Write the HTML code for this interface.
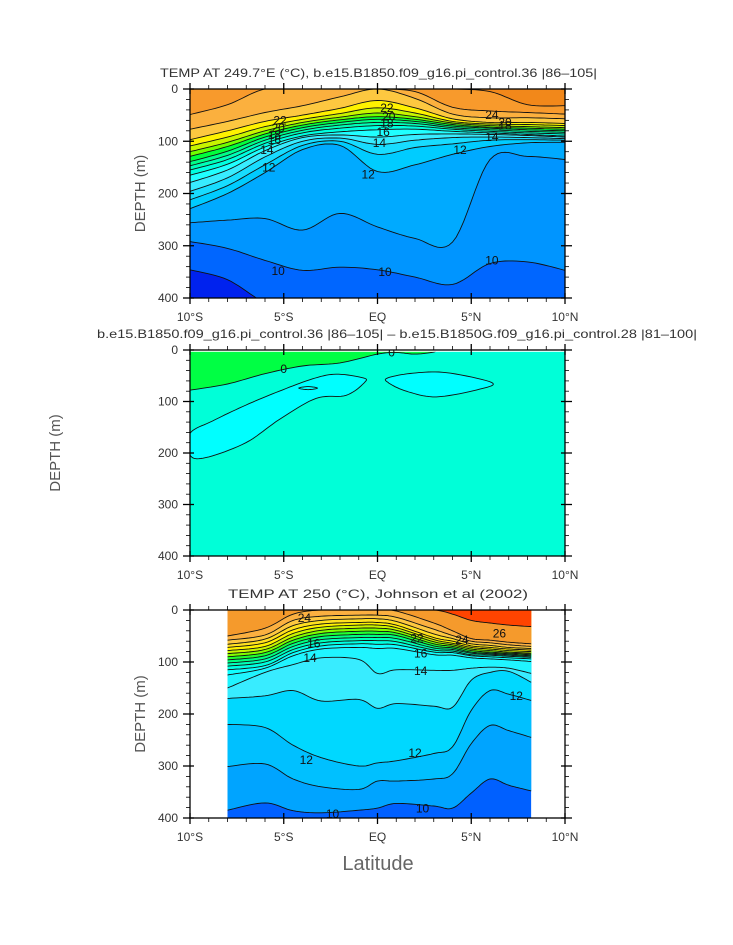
<!DOCTYPE html>
<html><head><meta charset="utf-8"><style>
html,body{margin:0;padding:0;background:#fff}
svg{display:block}
text{font-family:"Liberation Sans",sans-serif;fill:#333}
</style></head><body>
<svg id="chart" width="733" height="945" viewBox="0 0 733 945" xmlns="http://www.w3.org/2000/svg">
<rect width="733" height="945" fill="#fff"/>
</svg>
<script>
// ---------- shared data ----------
const xTickLats = [-10,-5,0,5,10];
const xTickLabels = ["10°S","5°S","EQ","5°N","10°N"];
const yTickDepths = [0,100,200,300,400];

// ---------- panel 1 (model temperature) ----------
const p1Lats = [-10,-8,-6,-4,-2,0,2,4,6,8,10];
const p1Depths = [
 [0,0,0,0,0,0,0,0,5,30,32],
 [49,30,0,0,0,0,5,35,42,45,48],
 [77,62,45,32,15,0,18,48,55,55,57],
 [97,80,62,50,37,22,36,57,64,64,66],
 [109,92,72,58,47,36,46,62,67,68,70],
 [120,102,80,64,54,46,53,65,70,72,74],
 [129,110,86,69,59,53,58,68,73,75,77],
 [139,119,92,74,64,58,62,71,75,78,80],
 [147,127,98,79,69,64,66,74,78,81,83],
 [155,135,104,84,75,70,71,77,81,84,86],
 [165,144,111,90,82,78,77,81,84,87,90],
 [179,155,118,93,88,92,87,86,87,89,92],
 [196,170,130,100,94,106,98,93,92,93,95],
 [212,185,145,108,100,125,112,105,98,97,98],
 [229,200,160,116,108,158,145,125,110,103,102],
 [256,251,248,270,238,264,286,293,135,129,135],
 [292,305,328,347,341,346,360,374,334,331,347],
 [346,365,410,440,440,440,440,440,440,440,440]
];
const p1Colors = ["#f2881a","#f89a2c","#fbb03e","#fdc840","#fff200","#c8f500","#70ff00","#00ff3c","#00ff88","#00ffb8","#00ffe0","#20ffff","#38ecff","#18dcff","#00ccff","#00aaff","#0095ff","#0066ff","#0022ee"];
const p1LabelLats = [-5.2,-5.3,-5.5,-5.5,-5.9,-5.8,0.5,0.6,0.5,0.3,0.1,-0.5,4.4,6.1,6.8,6.8,6.1,-5.3,0.4,6.1];
const p1LabelDepths = [60,75,88,98,117,150,36,53,66,82,103,164,117,50,64,70,92,348,350,328];
const p1LabelText = ["22","20","18","16","14","12","22","20","18","16","14","12","12","24","20","18","14","10","10","10"];

// ---------- panel 2 (difference) ----------
const p2GreenLats = [-10,-8,-6,-4,-2,0,1,2,3,3.1];
const p2GreenDepths = [78,66,46,31,25,8,5,8,4,0];
const p2Blob1Lats = [-10,-8.81,-7.02,-5.24,-3.46,-2.21,-0.78,-0.69,-1.67,-3.28,-5.24,-7.02,-9.16,-10];
const p2Blob1Depths = [162,138,107,80,56,47,54,63,88,94,135,180,209,204];
const p2Blob2Lats = [0.56,1.89,3.68,6.08,5.46,3.14,1.54,0.56];
const p2Blob2Depths = [54,45,44,63,76,91,80,63];
const p2Blob3Lats = [-4.2,-3.7,-3.2,-3.7];
const p2Blob3Depths = [74,71,74,77];
const p2LabelLats = [-5.0,0.75];
const p2LabelDepths = [37,5];
const p2LabelText = ["0","0"];

// ---------- panel 3 (observations) ----------
const p3Lats = [-8,-6,-4.5,-3,-1,0,1,3,4,5,6,7,8.2];
const p3Depths = [
 [0,0,0,0,0,0,0,0,8,20,25,29,32],
 [50,35,8,0,0,0,2,25,40,55,58,62,65],
 [58,48,20,12,10,10,14,37,49,60,63,67,70],
 [66,56,30,20,17,17,22,46,55,65,68,72,74],
 [72,63,38,27,24,24,29,53,60,69,72,75,77],
 [78,70,45,33,29,29,34,57,64,72,75,78,80],
 [84,76,52,39,35,35,39,61,67,75,78,81,83],
 [90,82,58,45,41,41,44,65,70,78,81,83,85],
 [96,88,64,51,47,47,49,69,73,81,83,85,87],
 [102,94,70,57,53,53,55,73,76,83,85,87,89],
 [108,100,76,63,59,59,61,77,79,86,87,89,91],
 [115,107,82,69,65,66,67,81,82,88,90,92,94],
 [125,112,88,75,72,74,74,86,87,92,94,96,99],
 [150,120,105,92,95,122,115,116,116,112,110,112,122],
 [170,165,155,175,172,189,180,185,187,135,120,118,139],
 [220,226,260,284,300,294,290,276,263,193,155,162,174],
 [301,296,325,340,345,329,329,325,315,257,222,232,245],
 [385,371,386,390,385,381,372,377,381,352,325,337,348]
];
const p3Colors = ["#ff4400","#f59a2c","#fbb040","#fdc840","#ffe020","#fff200","#c8f500","#80ff00","#20ff30","#00ff80","#00ffb8","#00ffe0","#10ffff","#20f4ff","#38ecff","#00d8ff","#00c0ff","#00a4ff","#0060ff"];
const p3DataLatMin = -8, p3DataLatMax = 8.2;
const p3LabelLats = [-3.9,2.1,4.5,6.5,-3.4,2.3,-3.6,2.3,7.4,-3.8,2.0,-2.4,2.4];
const p3LabelDepths = [15,55,58,45,64,84,92,117,165,288,275,392,382];
const p3LabelText = ["24","22","24","26","16","16","14","14","12","12","12","10","10"];

// ---------- rendering ----------
const NS = "http://www.w3.org/2000/svg";
const svg = document.getElementById('chart');
function el(tag, attrs, parent){
  const e = document.createElementNS(NS, tag);
  for (const k in attrs) e.setAttribute(k, attrs[k]);
  (parent||svg).appendChild(e);
  return e;
}
const X0 = 190, X1 = 565;
function makeScales(y0, y1){
  return { x: lat => X0 + (lat + 10) / 20 * (X1 - X0), y: d => y0 + d / 400 * (y1 - y0), y0, y1 };
}
function spline(pts, closed){
  const out = [];
  const n = pts.length;
  const get = i => closed ? pts[(i + n) % n] : pts[Math.max(0, Math.min(n - 1, i))];
  const segs = closed ? n : n - 1;
  for (let i = 0; i < segs; i++){
    const p0 = get(i-1), p1 = get(i), p2 = get(i+1), p3 = get(i+2);
    for (let s = 0; s < 10; s++){
      const t = s / 10, t2 = t*t, t3 = t2*t;
      const f = (a,b,c,d) => 0.5*((2*b) + (-a+c)*t + (2*a-5*b+4*c-d)*t2 + (-a+3*b-3*c+d)*t3);
      out.push([f(p0[0],p1[0],p2[0],p3[0]), f(p0[1],p1[1],p2[1],p3[1])]);
    }
  }
  if (!closed) out.push(pts[n-1]);
  return out;
}
function ptsStr(a){ return a.map(p => p[0].toFixed(1) + ',' + p[1].toFixed(1)).join(' '); }

function drawContourPanel(idx, sc, lats, depths, colors, clipLat0, clipLat1, labLats, labDepths, labText){
  const g = el('g', {});
  
  
  const cid = 'clip' + idx;
  const cp = el('clipPath', {id: cid}, g);
  el('rect', {x: sc.x(clipLat0), y: sc.y0, width: sc.x(clipLat1) - sc.x(clipLat0), height: sc.y1 - sc.y0}, cp);
  const inner = el('g', {'clip-path': 'url(#' + cid + ')'}, g);
  const bg = el('rect', {x: sc.x(clipLat0), y: sc.y0, width: sc.x(clipLat1) - sc.x(clipLat0), height: sc.y1 - sc.y0, fill: colors[colors.length-1]}, inner);
  
  
  const curves = depths.map(ds => spline(lats.map((la,i) => [sc.x(la), sc.y(ds[i])]), false));
  for (let k = curves.length - 1; k >= 0; k--){
    const c = curves[k];
    const poly = [[c[0][0]-2, sc.y0-3], [c[0][0]-2, c[0][1]], ...c, [c[c.length-1][0]+2, c[c.length-1][1]], [c[c.length-1][0]+2, sc.y0-3]];
    const p = el('polygon', {points: ptsStr(poly), fill: colors[k]}, inner);
    
    
  }
  curves.forEach((c, k) => {
    const l = el('polyline', {points: ptsStr(c), fill: 'none', stroke: '#111', 'stroke-width': 0.9}, inner);
    
    
  });
  labText.forEach((t, i) => {
    const tx = el('text', {x: sc.x(labLats[i]), y: sc.y(labDepths[i]) + 4, 'font-size': 12, 'text-anchor': 'middle', style: 'fill:#111'}, inner);
    tx.textContent = t;
    
    
  });
}

function drawAxes(idx, sc, title, titleX, titleW, ylabX){
  const g = el('g', {});
  
  
  el('rect', {x: X0, y: sc.y0, width: X1 - X0, height: sc.y1 - sc.y0, fill: 'none', stroke: '#000', 'stroke-width': 1.3}, g);
  for (let la = -10; la <= 10; la++){
    const x = sc.x(la);
    if (la % 5 === 0){
      el('line', {x1: x, x2: x, y1: sc.y0 - 6, y2: sc.y0 + 5, stroke: '#000', 'stroke-width': 1.3}, g);
      el('line', {x1: x, x2: x, y1: sc.y1 - 5, y2: sc.y1 + 6, stroke: '#000', 'stroke-width': 1.3}, g);
    } else {
      el('line', {x1: x, x2: x, y1: sc.y0 - 4, y2: sc.y0, stroke: '#000', 'stroke-width': 0.8}, g);
      el('line', {x1: x, x2: x, y1: sc.y1, y2: sc.y1 + 4, stroke: '#000', 'stroke-width': 0.8}, g);
    }
  }
  for (let d = 0; d <= 400; d += 20){
    const y = sc.y(d);
    if (d % 100 === 0){
      el('line', {x1: X0 - 7, x2: X0 + 4, y1: y, y2: y, stroke: '#000', 'stroke-width': 1.3}, g);
      el('line', {x1: X1 - 4, x2: X1 + 7, y1: y, y2: y, stroke: '#000', 'stroke-width': 1.3}, g);
    } else {
      el('line', {x1: X0 - 4, x2: X0, y1: y, y2: y, stroke: '#000', 'stroke-width': 0.8}, g);
      el('line', {x1: X1, x2: X1 + 4, y1: y, y2: y, stroke: '#000', 'stroke-width': 0.8}, g);
    }
  }
  yTickDepths.forEach(d => {
    const t = el('text', {x: 178, y: sc.y(d) + 4, 'font-size': 12, 'text-anchor': 'end'}, g);
    t.textContent = d;
    
    
  });
  xTickLats.forEach((la, i) => {
    const t = el('text', {x: sc.x(la), y: sc.y1 + 23, 'font-size': 12, 'text-anchor': 'middle'}, g);
    t.textContent = xTickLabels[i];
    
    
  });
  const tt = el('text', {x: titleX, y: sc.y0 - 12, 'font-size': 12, textLength: titleW, lengthAdjust: 'spacingAndGlyphs'}, g);
  tt.textContent = title;
  
  
  const cy = (sc.y0 + sc.y1) / 2;
  const yl = el('text', {x: ylabX, y: cy, 'font-size': 15, 'text-anchor': 'middle', transform: 'rotate(-90 ' + ylabX + ' ' + cy + ')', style: 'fill:#555'}, g);
  yl.textContent = 'DEPTH (m)';
  
  
}

// panel 1
const s1 = makeScales(89, 298);
drawContourPanel(1, s1, p1Lats, p1Depths, p1Colors, -10, 10, p1LabelLats, p1LabelDepths, p1LabelText);
drawAxes(1, s1, "TEMP AT 249.7°E (°C), b.e15.B1850.f09_g16.pi_control.36 |86–105|", 160, 437, 145);

// panel 2
const s2 = makeScales(350, 556);
(function(){
  const g = el('g', {'clip-path': 'url(#clip2)'});
  
  
  const cp = el('clipPath', {id: 'clip2'}, g);
  el('rect', {x: X0, y: s2.y0, width: X1 - X0, height: s2.y1 - s2.y0}, cp);
  el('rect', {x: X0, y: s2.y0, width: X1 - X0, height: s2.y1 - s2.y0, fill: '#00ffd8'}, g);
  const gc = spline(p2GreenLats.map((la,i) => [s2.x(la), s2.y(p2GreenDepths[i])]), false);
  const gp = el('polygon', {points: ptsStr([[X0-2, s2.y0-2], [X0-2, gc[0][1]], ...gc, [gc[gc.length-1][0], s2.y0-2]]), fill: '#00ff44'}, g);
  
  
  el('polyline', {points: ptsStr(gc), fill: 'none', stroke: '#111', 'stroke-width': 0.9}, g);
  [[p2Blob1Lats, p2Blob1Depths], [p2Blob2Lats, p2Blob2Depths], [p2Blob3Lats, p2Blob3Depths]].forEach((b, k) => {
    const c = spline(b[0].map((la,i) => [s2.x(la), s2.y(b[1][i])]), true);
    const p = el('polygon', {points: ptsStr(c), fill: '#00ffff', stroke: '#111', 'stroke-width': 0.9}, g);
    
    
  });
  el('rect', {x: X0, y: s2.y0, width: X1 - X0, height: 1.8, fill: '#fff'}, g);
  p2LabelText.forEach((t, i) => {
    const tx = el('text', {x: s2.x(p2LabelLats[i]), y: s2.y(p2LabelDepths[i]) + 4, 'font-size': 12, 'text-anchor': 'middle', style: 'fill:#111'}, g);
    tx.textContent = t;
    
    
  });
})();
drawAxes(2, s2, "b.e15.B1850.f09_g16.pi_control.36 |86–105| – b.e15.B1850G.f09_g16.pi_control.28 |81–100|", 97, 600, 60);

// panel 3
const s3 = makeScales(610, 818);
drawContourPanel(3, s3, p3Lats, p3Depths, p3Colors, p3DataLatMin, p3DataLatMax, p3LabelLats, p3LabelDepths, p3LabelText);
drawAxes(3, s3, "TEMP AT 250 (°C), Johnson et al (2002)", 228, 300, 145);

const xl = el('text', {x: 378, y: 870, 'font-size': 20, 'text-anchor': 'middle', style: 'fill:#666'});
xl.textContent = 'Latitude';


</script>
</body></html>
